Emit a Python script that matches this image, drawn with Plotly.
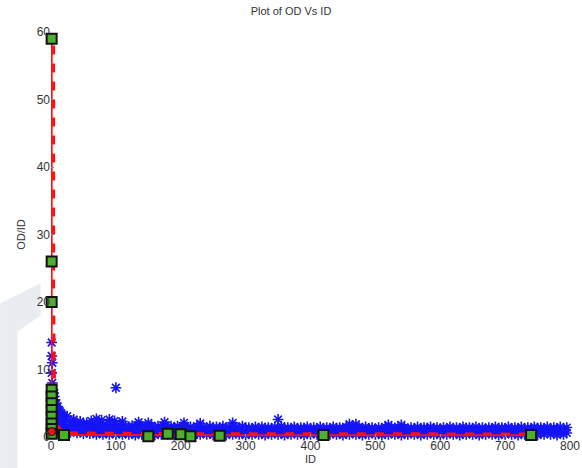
import plotly.graph_objects as go

# ---- data ----
band_id_a = [25, 35, 45, 55, 65, 75, 85, 95, 105, 115,
             125, 135, 145, 155, 165, 175, 185, 195, 205, 215,
             225, 235, 245, 255, 265, 275, 285, 295, 305, 315,
             325, 335, 345, 355, 365, 375, 385, 395, 405, 415,
             425, 435, 445, 455, 465, 475, 485, 495, 505, 515,
             525, 535, 545, 555, 565, 575, 585, 595, 605, 615,
             625, 635, 645, 655, 665, 675, 685, 695, 705, 715,
             725, 735, 745, 755, 765, 775, 785, 795]
band_odid_a = [3.1, 2.6, 2.3, 2.1, 2.0, 1.9, 1.9, 1.8, 1.8, 1.7,
               1.7, 1.8, 1.6, 1.7, 1.6, 1.7, 1.6, 1.6, 1.7, 1.5,
               1.6, 1.5, 1.6, 1.5, 1.6, 1.5, 1.5, 1.6, 1.4, 1.5,
               1.5, 1.4, 1.5, 1.6, 1.4, 1.5, 1.4, 1.5, 1.4, 1.5,
               1.4, 1.5, 1.4, 1.5, 1.6, 1.4, 1.5, 1.4, 1.4, 1.5,
               1.4, 1.5, 1.4, 1.4, 1.5, 1.4, 1.5, 1.4, 1.4, 1.5,
               1.4, 1.5, 1.4, 1.5, 1.4, 1.4, 1.5, 1.4, 1.5, 1.4,
               1.5, 1.4, 1.5, 1.4, 1.5, 1.4, 1.5, 1.4]

band_id_b = [20, 30, 40, 50, 60, 70, 80, 90, 100, 110,
             120, 130, 140, 150, 160, 170, 180, 190, 200, 210,
             220, 230, 240, 250, 260, 270, 280, 290, 300, 310,
             320, 330, 340, 350, 360, 370, 380, 390, 400, 410,
             420, 430, 440, 450, 460, 470, 480, 490, 500, 510,
             520, 530, 540, 550, 560, 570, 580, 590, 600, 610,
             620, 630, 640, 650, 660, 670, 680, 690, 700, 710,
             720, 730, 740, 750, 760, 770, 780, 790]
band_odid_b = [2.2, 1.8, 1.6, 1.5, 1.4, 1.3, 1.3, 1.2, 1.2, 1.2,
               1.1, 1.2, 1.1, 1.1, 1.0, 1.1, 1.0, 1.1, 1.0, 1.0,
               1.0, 1.1, 1.0, 0.9, 1.0, 1.0, 0.9, 1.0, 1.0, 0.9,
               1.0, 0.9, 1.0, 1.0, 0.9, 1.0, 0.9, 1.0, 0.9, 1.0,
               0.9, 1.0, 0.9, 1.0, 1.0, 0.9, 1.0, 0.9, 1.0, 0.9,
               1.0, 0.9, 1.0, 0.9, 1.0, 1.0, 0.9, 1.0, 0.9, 1.0,
               0.9, 1.0, 0.9, 1.0, 0.9, 1.0, 1.0, 0.9, 1.0, 0.9,
               1.0, 0.9, 1.0, 0.9, 1.0, 0.9, 1.0, 0.9]

band_odid_c = [1.2, 1.0, 0.9, 0.8, 0.8, 0.7, 0.7, 0.7, 0.6, 0.7,
               0.6, 0.7, 0.6, 0.6, 0.7, 0.6, 0.6, 0.7, 0.6, 0.6,
               0.6, 0.7, 0.6, 0.6, 0.6, 0.7, 0.6, 0.6, 0.6, 0.7,
               0.6, 0.6, 0.7, 0.6, 0.6, 0.6, 0.7, 0.6, 0.6, 0.6,
               0.7, 0.6, 0.6, 0.6, 0.7, 0.6, 0.6, 0.7, 0.6, 0.6,
               0.6, 0.7, 0.6, 0.6, 0.7, 0.6, 0.6, 0.6, 0.7, 0.6,
               0.6, 0.7, 0.6, 0.6, 0.6, 0.7, 0.6, 0.6, 0.7, 0.6,
               0.6, 0.7, 0.6, 0.6, 0.7, 0.6, 0.7, 0.6]

band_odid_d = [2.6, 2.2, 2.0, 1.8, 1.7, 1.6, 1.6, 1.5, 1.5, 1.5,
               1.4, 1.4, 1.4, 1.3, 1.4, 1.3, 1.3, 1.4, 1.3, 1.3,
               1.3, 1.3, 1.2, 1.3, 1.3, 1.2, 1.3, 1.2, 1.3, 1.2,
               1.2, 1.3, 1.2, 1.2, 1.3, 1.2, 1.2, 1.3, 1.2, 1.2,
               1.2, 1.2, 1.3, 1.2, 1.2, 1.2, 1.3, 1.2, 1.2, 1.2,
               1.2, 1.3, 1.2, 1.2, 1.2, 1.2, 1.3, 1.2, 1.2, 1.2,
               1.2, 1.2, 1.3, 1.2, 1.2, 1.2, 1.2, 1.3, 1.2, 1.2,
               1.2, 1.2, 1.2, 1.3, 1.2, 1.2, 1.2, 1.2]

band_odid_e = [0.9, 0.7, 0.6, 0.5, 0.5, 0.4, 0.4, 0.4, 0.4, 0.4,
               0.4, 0.3, 0.4, 0.4, 0.3, 0.4, 0.4, 0.3, 0.4, 0.4,
               0.3, 0.4, 0.4, 0.3, 0.4, 0.3, 0.4, 0.4, 0.3, 0.4,
               0.4, 0.3, 0.4, 0.4, 0.3, 0.4, 0.4, 0.3, 0.4, 0.4,
               0.3, 0.4, 0.4, 0.3, 0.4, 0.4, 0.3, 0.4, 0.4, 0.3,
               0.4, 0.4, 0.3, 0.4, 0.4, 0.3, 0.4, 0.4, 0.3, 0.4,
               0.4, 0.3, 0.4, 0.4, 0.3, 0.4, 0.4, 0.3, 0.4, 0.4,
               0.3, 0.4, 0.4, 0.3, 0.4, 0.4, 0.3, 0.4]

near_id = [1, 1, 2, 1, 2, 3, 4, 5, 6, 8, 10, 12, 14, 16, 18,
           3, 5, 7, 9, 11, 13, 15, 4, 6, 8, 10, 3, 2, 1, 2,
           7, 9, 11, 13, 15, 17, 19, 6, 8, 10, 12, 14, 16, 18, 5, 7, 9, 11]
near_odid = [14, 12, 11, 9.5, 8, 7, 6.5, 6, 5.5, 5, 4.5, 4, 3.8, 3.5, 3.2,
             5, 4, 3.5, 3, 2.8, 2.5, 2.3, 2, 1.5, 1.2, 1.0, 1.0, 3, 4.5, 2,
             4.8, 4.2, 3.8, 3.3, 3.0, 2.8, 2.6, 2.5, 2.2, 2.0, 1.8, 1.7, 1.6, 1.5,
             0.6, 0.8, 0.5, 0.7]

spike_id = [100, 62, 70, 78, 90, 98, 110, 135, 150, 175, 205, 230, 280,
            350, 460, 470, 520, 540]
spike_odid = [7.3, 2.4, 2.7, 2.5, 2.6, 2.4, 2.3, 2.2, 2.1, 2.2, 2.1, 2.0,
              2.1, 2.6, 1.9, 1.9, 1.8, 1.8]

solid_id = [1, 1, 1, 20, 180, 420, 740]
solid_odid = [59, 26, 0.3, 0.3, 0.25, 0.25, 0.25]

dash_id = [4, 4, 6, 20, 180, 420, 740]
dash_odid = [58, 20, 2, 0.6, 0.5, 0.5, 0.45]

sq_id = [1, 1, 1, 1, 1, 1, 1, 1, 1, 1, 1, 20, 150, 180, 200, 215, 260, 420, 740]
sq_odid = [59, 26, 20, 7, 6, 5, 4, 3, 2, 1.2, 0.5, 0.3, 0.1, 0.5, 0.4, 0.1, 0.2, 0.3, 0.3]

dot_id = [1]
dot_odid = [0.8]

x_ticks = [0, 100, 200, 300, 400, 500, 600, 700, 800]
y_ticks = [0, 10, 20, 30, 40, 50, 60]

blue_id = (band_id_a + band_id_b + band_id_a + band_id_b + band_id_b
           + near_id + spike_id)
blue_odid = (band_odid_a + band_odid_b + band_odid_c + band_odid_d + band_odid_e
             + near_odid + spike_odid)

fig = go.Figure()
fig.add_trace(go.Scatter(
    x=blue_id, y=blue_odid, mode="markers", cliponaxis=False,
    marker=dict(symbol="asterisk-open", size=9, color="#1414f5",
                line=dict(color="#1414f5", width=1.6)),
    showlegend=False))
fig.add_trace(go.Scatter(
    x=dash_id, y=dash_odid, mode="lines", cliponaxis=False,
    line=dict(color="#ff1010", width=3, dash="dash"), showlegend=False))
fig.add_trace(go.Scatter(
    x=solid_id, y=solid_odid, mode="lines", cliponaxis=False,
    line=dict(color="#ff1010", width=2), showlegend=False))
fig.add_trace(go.Scatter(
    x=sq_id, y=sq_odid, mode="markers", cliponaxis=False,
    marker=dict(symbol="square", size=10, color="#4cb02c",
                line=dict(color="#111111", width=2)),
    showlegend=False))
fig.add_trace(go.Scatter(
    x=dot_id, y=dot_odid, mode="markers", cliponaxis=False,
    marker=dict(symbol="circle", size=8, color="#ee1111",
                line=dict(color="#111111", width=1)),
    showlegend=False))

fig.update_layout(
    width=582, height=468,
    margin=dict(l=51, r=12, t=32, b=31, autoexpand=False),
    paper_bgcolor="white", plot_bgcolor="rgba(0,0,0,0)",
    hovermode=False,
    font=dict(family="Liberation Sans, Arial, sans-serif", size=12, color="#333333"),
    title=dict(text="Plot of OD Vs ID", x=0.5, xanchor="center", y=0.985, yanchor="top",
               font=dict(size=11, color="#333333")),
    xaxis=dict(range=[0, 800], tickvals=x_ticks, showgrid=False, zeroline=False,
               showline=False, ticks="inside", ticklen=3, tickcolor="#888888",
               automargin=False, ticklabelstandoff=0,
               title=dict(text="ID", standoff=1, font=dict(size=11))),
    yaxis=dict(range=[0, 60], tickvals=y_ticks, showgrid=False, zeroline=False,
               showline=False, ticks="inside", ticklen=3, tickcolor="#888888",
               automargin=False,
               title=dict(text="OD/ID", standoff=8, font=dict(size=11))),
    shapes=[
        dict(type="path", xref="paper", yref="paper", layer="below",
             path="M -0.098 0.33 L -0.02 0.38 L -0.02 0.30 L -0.065 0.26 L -0.065 -0.08 L -0.098 -0.08 Z",
             fillcolor="#e9ecf1", line=dict(width=0)),
    ],
)
# remove the default 8px body margin so the 582x468 figure fills the window exactly
fig.write_html("out.html", config={"displayModeBar": False},
               post_script="document.body.style.margin='0';document.body.style.overflow='hidden';")
